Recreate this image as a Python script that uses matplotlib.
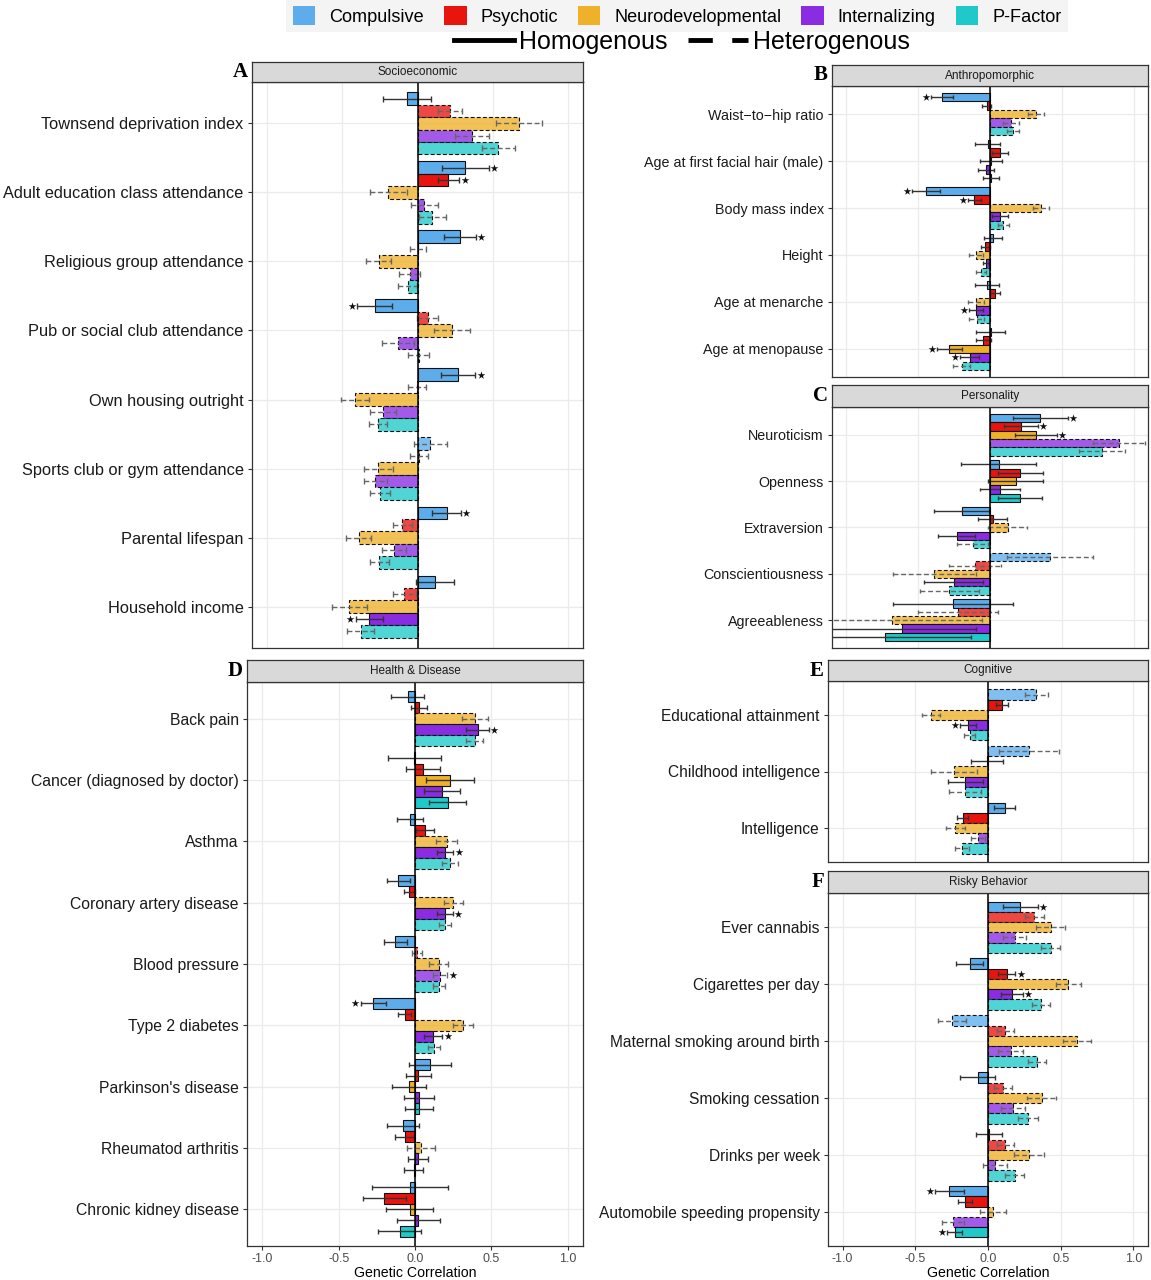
import matplotlib
matplotlib.use("Agg")
import matplotlib.pyplot as plt
from matplotlib.colors import to_rgba
from matplotlib.patches import Patch
from matplotlib.lines import Line2D

plt.rcParams['font.family'] = ['Liberation Sans', 'DejaVu Sans']

factors = ["Compulsive", "Psychotic", "Neurodevelopmental", "Internalizing", "P-Factor"]
colors = ["#5DADEC", "#E8150F", "#EFB12A", "#8B2BE2", "#1FC9C9"]

# A - Socioeconomic
socio_traits = ["Townsend deprivation index", "Adult education class attendance",
                "Religious group attendance", "Pub or social club attendance",
                "Own housing outright", "Sports club or gym attendance",
                "Parental lifespan", "Household income"]
socio_est = [[-0.07, 0.217, 0.675, 0.364, 0.537],
             [0.318, 0.206, -0.195, 0.044, 0.099],
             [0.28, 0.005, -0.257, -0.053, -0.066],
             [-0.285, 0.068, 0.232, -0.13, 0.008],
             [0.27, -0.003, -0.414, -0.23, -0.26],
             [0.086, 0.01, -0.26, -0.28, -0.25],
             [0.193, -0.1, -0.39, -0.154, -0.254],
             [0.116, -0.088, -0.454, -0.32, -0.377]]
socio_ci = [[0.157, 0.082, 0.154, 0.113, 0.11],
            [0.157, 0.073, 0.124, 0.089, 0.088],
            [0.107, 0.053, 0.084, 0.067, 0.065],
            [0.117, 0.069, 0.12, 0.107, 0.071],
            [0.114, 0.061, 0.093, 0.088, 0.06],
            [0.11, 0.06, 0.096, 0.075, 0.066],
            [0.096, 0.062, 0.084, 0.08, 0.064],
            [0.124, 0.076, 0.117, 0.091, 0.09]]
socio_het = [[0, 1, 1, 1, 1], [0, 0, 1, 1, 1], [0, 1, 1, 1, 1], [0, 1, 1, 1, 1],
             [0, 1, 1, 1, 1], [1, 1, 1, 1, 1], [0, 1, 1, 1, 1], [0, 1, 1, 0, 1]]
socio_sig = [[0, 0, 0, 0, 0], [1, 1, 0, 0, 0], [1, 0, 0, 0, 0], [1, 0, 0, 0, 0],
             [1, 0, 0, 0, 0], [0, 0, 0, 0, 0], [1, 0, 0, 0, 0], [0, 0, 0, 1, 0]]

# B - Anthropomorphic
anthro_traits = ["Waist\u2212to\u2212hip ratio", "Age at first facial hair (male)",
                 "Body mass index", "Height", "Age at menarche", "Age at menopause"]
anthro_est = [[-0.336, -0.023, 0.32, 0.146, 0.158],
              [-0.016, 0.07, 0.005, -0.028, 0.005],
              [-0.445, -0.11, 0.355, 0.072, 0.093],
              [0.023, -0.032, -0.097, -0.028, -0.063],
              [-0.02, 0.035, -0.097, -0.097, -0.093],
              [0.005, -0.046, -0.283, -0.14, -0.197]]
anthro_ci = [[0.075, 0.031, 0.056, 0.053, 0.041],
             [0.088, 0.055, 0.077, 0.056, 0.055],
             [0.1, 0.046, 0.056, 0.056, 0.038],
             [0.064, 0.031, 0.049, 0.023, 0.035],
             [0.085, 0.038, 0.058, 0.049, 0.052],
             [0.1, 0.05, 0.085, 0.066, 0.058]]
anthro_het = [[0, 0, 1, 1, 1], [0, 0, 0, 0, 0], [0, 0, 1, 0, 1],
              [0, 0, 1, 0, 1], [0, 0, 1, 0, 1], [0, 0, 0, 0, 1]]
anthro_sig = [[1, 0, 0, 0, 0], [0, 0, 0, 0, 0], [1, 1, 0, 0, 0],
              [0, 0, 0, 0, 0], [0, 0, 0, 1, 0], [0, 0, 1, 1, 0]]

# C - Personality
pers_traits = ["Neuroticism", "Openness", "Extraversion", "Conscientiousness", "Agreeableness"]
pers_est = [[0.35, 0.216, 0.32, 0.9, 0.78],
            [0.06, 0.21, 0.18, 0.072, 0.21],
            [-0.197, 0.019, 0.123, -0.232, -0.12],
            [0.42, -0.104, -0.387, -0.253, -0.283],
            [-0.258, -0.223, -0.68, -0.61, -0.73]]
pers_ci = [[0.191, 0.116, 0.147, 0.18, 0.157],
           [0.259, 0.157, 0.191, 0.139, 0.152],
           [0.19, 0.1, 0.136, 0.131, 0.109],
           [0.3, 0.18, 0.29, 0.205, 0.204],
           [0.42, 0.278, 0.624, 0.51, 0.6]]
pers_het = [[0, 0, 0, 1, 1], [0, 0, 0, 0, 0], [0, 0, 1, 0, 1], [1, 1, 1, 0, 1], [0, 1, 1, 0, 0]]
pers_sig = [[1, 1, 1, 0, 0], [0, 0, 0, 0, 0], [0, 0, 0, 0, 0], [0, 0, 0, 0, 0], [0, 0, 0, 0, 0]]

# D - Health & Disease
health_traits = ["Back pain", "Cancer (diagnosed by doctor)", "Asthma", "Coronary artery disease",
                 "Blood pressure", "Type 2 diabetes", "Parkinson's disease",
                 "Rheumatod arthritis", "Chronic kidney disease"]
health_est = [[-0.048, 0.026, 0.393, 0.41, 0.39],
              [-0.005, 0.054, 0.23, 0.178, 0.213],
              [-0.033, 0.065, 0.207, 0.198, 0.228],
              [-0.109, -0.037, 0.25, 0.196, 0.196],
              [-0.128, 0.013, 0.154, 0.165, 0.159],
              [-0.272, -0.067, 0.315, 0.12, 0.126],
              [0.098, 0.022, -0.041, 0.028, 0.026],
              [-0.08, -0.067, 0.039, 0.022, -0.009],
              [-0.033, -0.2, -0.035, 0.022, -0.1]]
health_ci = [[0.107, 0.052, 0.087, 0.074, 0.058],
             [0.174, 0.112, 0.158, 0.117, 0.123],
             [0.086, 0.058, 0.071, 0.052, 0.051],
             [0.073, 0.038, 0.062, 0.051, 0.04],
             [0.076, 0.033, 0.065, 0.046, 0.038],
             [0.084, 0.043, 0.068, 0.058, 0.038],
             [0.14, 0.082, 0.112, 0.098, 0.093],
             [0.103, 0.063, 0.091, 0.065, 0.064],
             [0.251, 0.139, 0.154, 0.142, 0.139]]
health_het = [[0, 0, 1, 0, 1], [0, 0, 0, 0, 0], [0, 0, 1, 0, 1], [0, 0, 1, 0, 1], [0, 1, 1, 1, 1],
              [0, 0, 1, 0, 1], [0, 0, 0, 0, 0], [0, 0, 1, 0, 0], [0, 0, 0, 0, 0]]
health_sig = [[0, 0, 0, 1, 0], [0, 0, 0, 0, 0], [0, 0, 0, 1, 0], [0, 0, 0, 1, 0], [0, 0, 0, 1, 0],
              [1, 0, 0, 1, 0], [0, 0, 0, 0, 0], [0, 0, 0, 0, 0], [0, 0, 0, 0, 0]]

# E - Cognitive
cog_traits = ["Educational attainment", "Childhood intelligence", "Intelligence"]
cog_est = [[0.331, 0.096, -0.39, -0.139, -0.126],
           [0.283, -0.005, -0.235, -0.155, -0.155],
           [0.114, -0.174, -0.224, -0.071, -0.178]]
cog_ci = [[0.079, 0.041, 0.063, 0.056, 0.037],
          [0.205, 0.11, 0.16, 0.119, 0.11],
          [0.074, 0.038, 0.066, 0.047, 0.046]]
cog_het = [[1, 0, 1, 0, 1], [1, 0, 1, 0, 1], [0, 0, 1, 1, 1]]
cog_sig = [[0, 0, 0, 1, 0], [0, 0, 0, 0, 0], [0, 0, 0, 0, 0]]

# F - Risky Behavior
risk_traits = ["Ever cannabis", "Cigarettes per day", "Maternal smoking around birth",
               "Smoking cessation", "Drinks per week", "Automobile speeding propensity"]
risk_est = [[0.221, 0.317, 0.43, 0.183, 0.43],
            [-0.126, 0.13, 0.553, 0.164, 0.365],
            [-0.247, 0.119, 0.61, 0.158, 0.34],
            [-0.071, 0.103, 0.37, 0.171, 0.274],
            [0.005, 0.119, 0.279, 0.05, 0.183],
            [-0.265, -0.155, 0.034, -0.242, -0.228]]
risk_ci = [[0.121, 0.066, 0.097, 0.08, 0.068],
           [0.094, 0.059, 0.084, 0.074, 0.063],
           [0.099, 0.06, 0.097, 0.086, 0.062],
           [0.12, 0.063, 0.1, 0.083, 0.067],
           [0.088, 0.058, 0.103, 0.082, 0.063],
           [0.097, 0.048, 0.088, 0.076, 0.051]]
risk_het = [[0, 1, 1, 1, 1], [0, 0, 1, 0, 1], [1, 1, 1, 1, 1],
            [0, 1, 1, 1, 1], [0, 1, 1, 1, 1], [0, 0, 1, 1, 0]]
risk_sig = [[1, 0, 0, 0, 0], [0, 1, 0, 1, 0], [0, 0, 0, 0, 0],
            [0, 0, 0, 0, 0], [0, 0, 0, 0, 0], [1, 0, 0, 0, 1]]

W, H = 1151, 1280
fig = plt.figure(figsize=(W / 100, H / 100), dpi=100)
BW = 0.18


def panel(box, strip_top, title, letter, traits, est, ci, het, sig, fs, xaxis=False):
    l, r, t, b = box
    ax = fig.add_axes([l / W, 1 - b / H, (r - l) / W, (b - t) / H])
    n = len(traits)
    for i in range(n):
        y0 = n - i
        for j in range(5):
            y = y0 + (2 - j) * BW
            e, c, h = est[i][j], ci[i][j], het[i][j]
            ls = (0, (3.5, 2)) if h else '-'
            fc = to_rgba(colors[j], 0.78 if h else 1.0)
            ax.barh(y, e, height=BW, color=fc, edgecolor='#111111', linewidth=0.8,
                    linestyle=ls, zorder=2)
            ec = '#666666' if h else '#333333'
            ax.hlines(y, e - c, e + c, colors=ec, linestyles=ls, lw=1.0, zorder=3)
            ax.vlines([e - c, e + c], y - 0.043, y + 0.043, colors=ec, lw=1.0, zorder=3)
            if sig[i][j]:
                sx = e + c + 0.035 if e > 0 else e - c - 0.035
                ax.scatter(sx, y, marker='*', s=34, color='#111111', lw=0, zorder=4)
    ax.axvline(0, color='black', lw=1.1, zorder=4)
    ax.set_xlim(-1.1, 1.1)
    ax.set_ylim(0.4, n + 0.6)
    ax.set_xticks([-1, -0.5, 0, 0.5, 1])
    ax.set_yticks([n - i for i in range(n)])
    ax.set_yticklabels(traits)
    ax.set_axisbelow(True)
    ax.grid(color='#EBEBEB', lw=0.9)
    for s in ax.spines.values():
        s.set_color('#333333')
        s.set_linewidth(0.9)
    ax.tick_params(axis='y', length=3, color='#333333', labelsize=fs,
                   labelcolor='#1A1A1A', pad=3)
    if xaxis:
        ax.set_xticklabels(["-1.0", "-0.5", "0.0", "0.5", "1.0"])
        ax.tick_params(axis='x', length=3, color='#333333', labelsize=9,
                       labelcolor='#4D4D4D', pad=2)
        ax.set_xlabel("Genetic Correlation", fontsize=10.2, labelpad=1)
    else:
        ax.tick_params(axis='x', length=0, labelbottom=False)

    sx = fig.add_axes([l / W, 1 - t / H, (r - l) / W, (t - strip_top) / H])
    sx.set_facecolor('#D9D9D9')
    sx.set_xticks([])
    sx.set_yticks([])
    for s in sx.spines.values():
        s.set_color('#333333')
        s.set_linewidth(0.9)
    sx.text(0.5, 0.5, title, transform=sx.transAxes, ha='center', va='center',
            fontsize=8.5, color='#1A1A1A')
    fig.text((l - 4) / W, 1 - (strip_top + t) / 2 / H, letter, ha='right', va='center',
             family='Liberation Serif', weight='bold', fontsize=15)
    return ax


panel((252, 583, 82, 648), 62, "Socioeconomic", "A",
      socio_traits, socio_est, socio_ci, socio_het, socio_sig, 11.8)
panel((832, 1148, 86, 377), 65, "Anthropomorphic", "B",
      anthro_traits, anthro_est, anthro_ci, anthro_het, anthro_sig, 10.3)
panel((832, 1148, 407, 648), 385, "Personality", "C",
      pers_traits, pers_est, pers_ci, pers_het, pers_sig, 10.3)
panel((247, 583, 682, 1246), 660, "Health & Disease", "D",
      health_traits, health_est, health_ci, health_het, health_sig, 11.3, xaxis=True)
panel((828, 1148, 681, 862), 660, "Cognitive", "E",
      cog_traits, cog_est, cog_ci, cog_het, cog_sig, 11.2)
panel((828, 1148, 893, 1246), 871, "Risky Behavior", "F",
      risk_traits, risk_est, risk_ci, risk_het, risk_sig, 11.2, xaxis=True)

# legends
handles = [Patch(facecolor=c, edgecolor='none') for c in colors]
fig.legend(handles, factors, loc='upper center', bbox_to_anchor=(677 / W, 1.0),
           ncol=5, fontsize=13.1, frameon=True, facecolor='#F2F2F2', edgecolor='none',
           fancybox=False, handlelength=1.25, handleheight=1.2, handletextpad=0.75,
           columnspacing=1.1, borderpad=0.35, borderaxespad=0)
lines = [Line2D([], [], color='black', lw=3.5),
         Line2D([], [], color='black', lw=3.5, linestyle=(0, (5, 4)))]
fig.legend(lines, ["Homogenous", "Heterogenous"], loc='center',
           bbox_to_anchor=(682 / W, 1 - 42 / H), ncol=2, fontsize=18, frameon=False,
           handlelength=2.4, handletextpad=0.2, columnspacing=0.8, borderpad=0,
           borderaxespad=0)

fig.savefig("out.png", dpi=100)
